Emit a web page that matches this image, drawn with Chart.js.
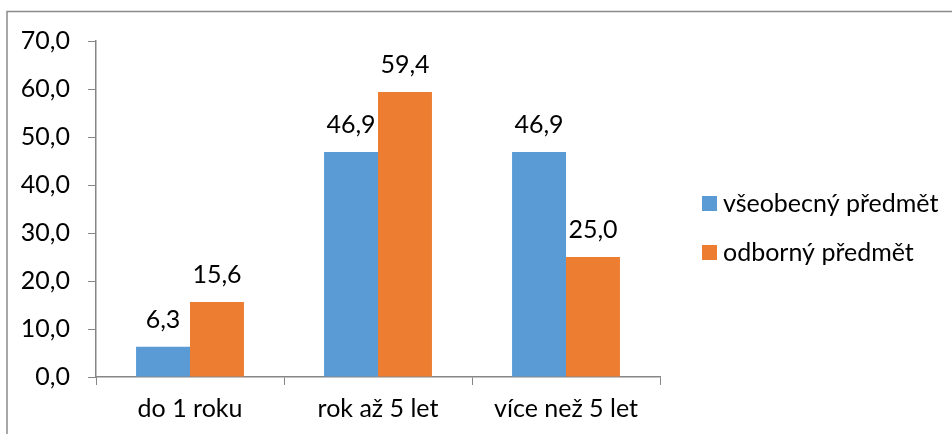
<!DOCTYPE html>
<html>
<head>
<meta charset="utf-8">
<script src="https://cdn.jsdelivr.net/npm/chart.js@4/dist/chart.umd.min.js"></script>
<style>
  body { margin: 0; background: #fff; }
  #wrap { width: 952px; height: 434px; position: relative; }
</style>
</head>
<body>
<div id="wrap"><canvas id="myChart" width="952" height="434"></canvas></div>
<script>
const categories = ["do 1 roku", "rok až 5 let", "více než 5 let"]
const seriesNames = ["všeobecný předmět", "odborný předmět"]
const generalValues = [6.3, 46.9, 46.9]
const vocationalValues = [15.6, 59.4, 25.0]
const yTickLabels = ["0,0", "10,0", "20,0", "30,0", "40,0", "50,0", "60,0", "70,0"]

const FONT = "Lato, 'Open Sans', sans-serif"
const axisColor = "#868686"

function fmt(v) {
  return v.toFixed(1).replace(".", ",")
}

// frame + value labels + legend drawn on the canvas
const extras = {
  id: "extras",
  beforeDraw(chart) {
    const ctx = chart.ctx
    ctx.save()
    ctx.strokeStyle = "#8a8a8a"
    ctx.lineWidth = 1.5
    ctx.beginPath()
    ctx.moveTo(7, 434)
    ctx.lineTo(7, 11.5)
    ctx.lineTo(952, 11.5)
    ctx.stroke()
    ctx.restore()
  },
  afterDatasetsDraw(chart) {
    const ctx = chart.ctx
    ctx.save()
    ctx.font = "25px " + FONT
    ctx.fillStyle = "#000"
    ctx.textAlign = "center"
    ctx.textBaseline = "alphabetic"
    chart.data.datasets.forEach((ds, i) => {
      chart.getDatasetMeta(i).data.forEach((bar, j) => {
        ctx.fillText(fmt(ds.data[j]), bar.x, bar.y - 19)
      })
    })
    // legend
    ctx.textAlign = "left"
    ctx.textBaseline = "middle"
    chart.data.datasets.forEach((ds, i) => {
      const y = 203 + i * 49
      ctx.fillStyle = ds.backgroundColor
      ctx.fillRect(702, y - 7, 15, 15)
      ctx.fillStyle = "#000"
      ctx.fillText(ds.label, 723, y + 1)
    })
    ctx.restore()
  }
}

const ctx = document.getElementById("myChart").getContext("2d")
new Chart(ctx, {
  type: "bar",
  data: {
    labels: categories,
    datasets: [
      {
        label: seriesNames[0],
        data: generalValues,
        backgroundColor: "#5B9BD5",
        categoryPercentage: 0.574,
        barPercentage: 1,
      },
      {
        label: seriesNames[1],
        data: vocationalValues,
        backgroundColor: "#ED7D31",
        categoryPercentage: 0.574,
        barPercentage: 1,
      },
    ],
  },
  options: {
    responsive: false,
    animation: false,
    layout: { padding: { top: 41, right: 292, bottom: 0, left: 0 } },
    plugins: {
      legend: { display: false },
      tooltip: { enabled: false },
    },
    scales: {
      x: {
        grid: { offset: true, drawOnChartArea: false, tickLength: 8, color: axisColor },
        border: { color: axisColor, width: 1.5 },
        ticks: { font: { family: FONT, size: 25 }, color: "#000", padding: 9 },
        afterFit(scale) { scale.height = 57 },
      },
      y: {
        min: 0,
        max: 70,
        grid: { drawOnChartArea: false, tickLength: 8, color: axisColor },
        border: { color: axisColor, width: 1.5 },
        ticks: {
          stepSize: 10,
          font: { family: FONT, size: 25 },
          color: "#000",
          padding: 18,
          callback: (v, i) => yTickLabels[i],
        },
        afterFit(scale) { scale.width = 96 },
      },
    },
  },
  plugins: [extras],
})
</script>
</body>
</html>
